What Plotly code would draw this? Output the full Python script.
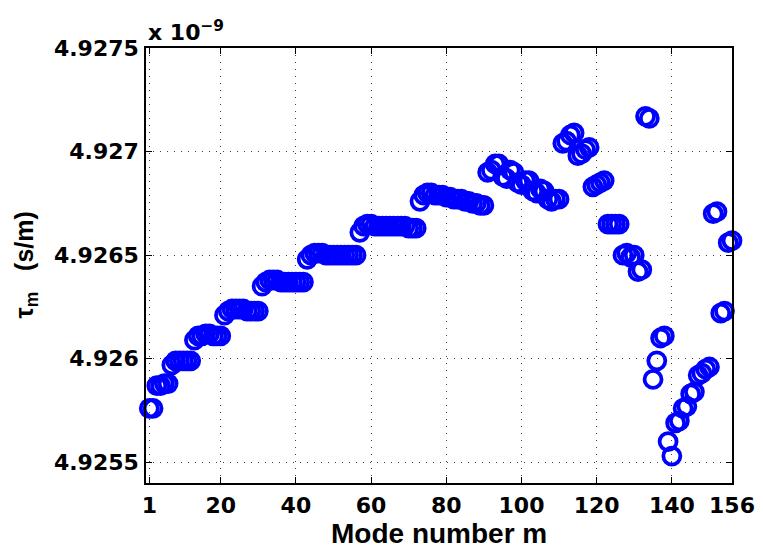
import plotly.graph_objects as go

# Mode groups (delay in units of 1e-9 s/m), modes numbered 1..156
g1 = [4.92576, 4.92576]
g2 = [4.92587, 4.92587, 4.92588, 4.92588]
g3 = [4.92597, 4.92599, 4.92599, 4.92599, 4.92599, 4.92599]
g4 = [4.92609, 4.92611, 4.92611, 4.92612, 4.92612, 4.92611, 4.92611, 4.92611]
g5 = [4.92621, 4.92623, 4.92624, 4.92624, 4.92624, 4.92624, 4.92623, 4.92623,
      4.92623, 4.92623]
g6 = [4.92635, 4.92637, 4.92638, 4.92638, 4.92638, 4.92637, 4.92637, 4.92637,
      4.92637, 4.92637, 4.92637, 4.92637]
g7 = [4.92648, 4.92650, 4.92651, 4.92651, 4.92651, 4.92650, 4.92650, 4.92650,
      4.92650, 4.92650, 4.92650, 4.92650, 4.92650, 4.92650]
g8 = [4.92661, 4.92664, 4.92665, 4.92665, 4.92664, 4.92664, 4.92664, 4.92664,
      4.92664, 4.92664, 4.92664, 4.92664, 4.92664, 4.92663, 4.92663, 4.92663]
g9 = [4.92676, 4.92679, 4.92680, 4.92680, 4.92679, 4.92679, 4.92679, 4.92678,
      4.92678, 4.92677, 4.92677, 4.92677, 4.92676, 4.92676, 4.92675, 4.92675,
      4.92674, 4.92674]
g10 = [4.92690, 4.92691, 4.92694, 4.92694, 4.92688, 4.92687, 4.92691, 4.92690,
       4.92685, 4.92684, 4.92686, 4.92686, 4.92681, 4.92680, 4.92682, 4.92681,
       4.92677, 4.92676, 4.92677, 4.92677]
g11 = [4.92704, 4.92705, 4.92708, 4.92709, 4.92698, 4.92699, 4.92701, 4.92702,
       4.92683, 4.92684, 4.92685, 4.92686, 4.92665, 4.92665, 4.92665, 4.92665,
       4.92650, 4.92651, 4.92649, 4.92650, 4.92642, 4.92643]
g12 = [4.92717, 4.92716, 4.92590, 4.92599, 4.92610, 4.92611, 4.92560, 4.92553,
       4.92569, 4.92570, 4.92576, 4.92577, 4.92583, 4.92584, 4.92592, 4.92593,
       4.92595, 4.92596, 4.92670, 4.92671, 4.92622, 4.92623, 4.92656, 4.92657]

tau_scaled = g1 + g2 + g3 + g4 + g5 + g6 + g7 + g8 + g9 + g10 + g11 + g12
modes = list(range(1, len(tau_scaled) + 1))

x_ticks = [1, 20, 40, 60, 80, 100, 120, 140, 156]
y_ticks = [4.9255, 4.926, 4.9265, 4.927, 4.9275]
y_tick_labels = ["4.9255", "4.926", "4.9265", "4.927", "4.9275"]

TICK_FONT = "DejaVu Sans, sans-serif"
LABEL_FONT = "Liberation Sans, Arial, sans-serif"

fig = go.Figure()
fig.add_trace(go.Scatter(
    x=modes, y=tau_scaled, mode="markers", cliponaxis=False,
    marker=dict(symbol="circle-open", size=17, color="#0000ff",
                line=dict(width=3.8, color="#0000ff")),
    showlegend=False,
))

axis_common = dict(
    showline=True, linecolor="black", linewidth=1.5, mirror="allticks",
    ticks="inside", ticklen=6, tickwidth=1.2, tickcolor="black",
    showgrid=True, gridcolor="rgba(0,0,0,0.75)", gridwidth=1,
    griddash="1px,6px", zeroline=False, automargin=False,
    tickfont=dict(family=TICK_FONT, size=22, color="black", weight="bold"),
)

fig.update_xaxes(
    range=[0.12, 156], tickmode="array", tickvals=x_ticks,
    ticktext=[str(t) for t in x_ticks], ticklabelstandoff=2,
    **axis_common,
)
fig.update_yaxes(
    range=[4.9254, 4.9275], tickmode="array", tickvals=y_ticks,
    ticktext=y_tick_labels, ticklabelstandoff=1,
    **axis_common,
)

# Axis titles placed as annotations for exact positioning
fig.add_annotation(
    x=0.5, y=0, xref="paper", yref="paper", xanchor="center", yanchor="middle",
    yshift=-50, text="Mode number m", showarrow=False,
    font=dict(family=LABEL_FONT, size=28, color="black", weight="bold"),
)
fig.add_annotation(
    x=0, y=0.5, xref="paper", yref="paper", xanchor="center", yanchor="middle",
    xshift=-121, textangle=-90,
    text="τ<sub>m</sub>\u00a0\u00a0 (s/m)", showarrow=False,
    font=dict(family=LABEL_FONT, size=25, color="black", weight="bold"),
)
fig.add_annotation(
    x=0, y=1, xref="paper", yref="paper", xanchor="left", yanchor="bottom",
    text="x 10<sup>−9</sup>", showarrow=False, yshift=1,
    font=dict(family=TICK_FONT, size=22, color="black", weight="bold"),
)

# The page body adds an 8 px offset; compensate so the axes land in place.
fig.update_layout(
    width=755, height=544,
    margin=dict(l=138, r=31, t=40, b=69),
    plot_bgcolor="white", paper_bgcolor="white",
)

fig.write_html("out.html")
